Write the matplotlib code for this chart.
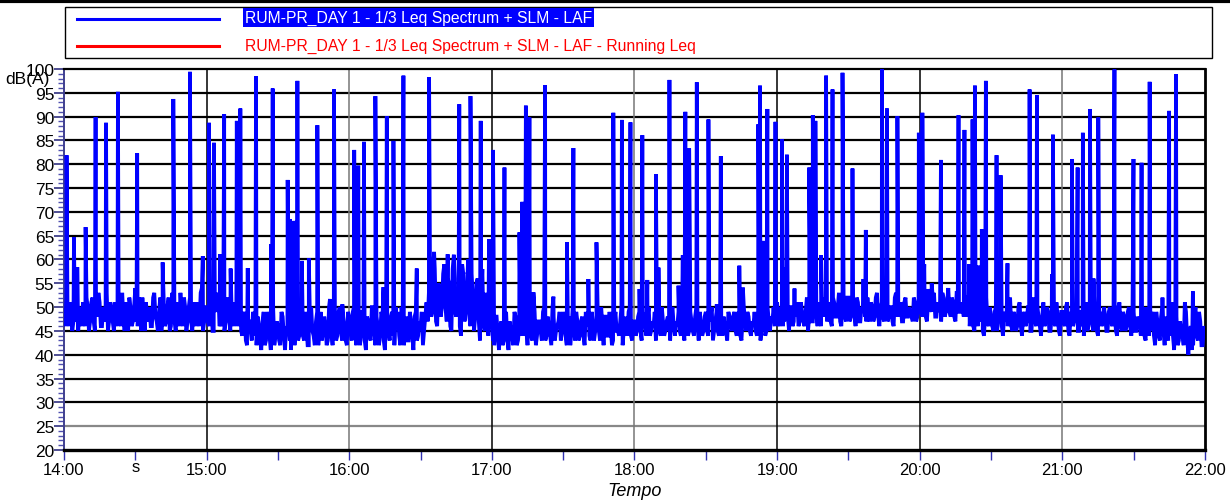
import matplotlib
matplotlib.use("Agg")
import matplotlib.pyplot as plt
from matplotlib import font_manager
from matplotlib.lines import Line2D
from matplotlib.patches import Rectangle
from matplotlib.ticker import MultipleLocator
import numpy as np

# LAF background level, one reading per minute starting 14:00 (dB(A))
laf_base = [
    48, 52, 46, 50, 47, 53, 45, 49, 51, 46, 50, 47, 52, 45, 48, 51, 46, 49, 53, 47,
    50, 45, 49, 52, 46, 48, 51, 45, 50, 47, 54, 46, 49, 52, 45, 48, 50, 46, 53, 47,
    49, 45, 51, 47, 52, 46, 50, 45, 48, 53, 46, 50, 47, 52, 45, 49, 51, 46, 54, 47,
    50, 46, 52, 45, 49, 53, 46, 50, 47, 52, 45, 49, 51, 46, 48, 44, 49, 42, 47, 43,
    48, 42, 46, 41, 49, 43, 47, 41, 50, 44, 46, 42, 48, 41, 45, 43, 49, 42, 47, 44,
    48, 43, 46, 42, 50, 44, 47, 42, 49, 45, 46, 43, 48, 42, 47, 44, 50, 43, 46, 42,
    48, 43, 50, 42, 46, 44, 49, 41, 47, 43, 50, 42, 46, 44, 48, 41, 47, 43, 49, 42,
    46, 44, 50, 42, 48, 43, 47, 41, 49, 44, 46, 42, 48, 47, 56, 49, 58, 46, 54, 50,
    59, 47, 55, 45, 61, 48, 53, 44, 57, 49, 60, 46, 52, 48, 56, 43, 58, 45, 50, 47,
    46, 42, 48, 41, 47, 43, 49, 41, 45, 42, 48, 43, 47, 44, 50, 42, 46, 43, 49, 44,
    47, 43, 50, 44, 46, 42, 48, 45, 47, 43, 49, 44, 46, 42, 50, 43, 47, 44, 48, 42,
    46, 44, 49, 43, 47, 45, 50, 42, 48, 44, 46, 43, 49, 45, 47, 42, 48, 44, 50, 43,
    47, 45, 49, 43, 48, 44, 50, 45, 46, 43, 49, 44, 47, 45, 48, 43, 50, 44, 46, 45,
    49, 43, 48, 45, 47, 44, 50, 43, 46, 45, 49, 44, 48, 43, 47, 45, 50, 44, 46, 43,
    48, 45, 49, 44, 47, 43, 50, 45, 48, 44, 46, 45, 49, 43, 48, 44, 50, 45, 47, 46,
    51, 46, 49, 47, 52, 45, 50, 47, 48, 46, 51, 47, 49, 45, 52, 47, 50, 46, 49, 48,
    52, 47, 50, 46, 51, 48, 53, 46, 49, 47, 52, 48, 50, 46, 51, 47, 49, 48, 52, 47,
    50, 48, 53, 46, 51, 47, 52, 48, 50, 46, 53, 48, 51, 47, 52, 48, 49, 47, 51, 48,
    52, 48, 54, 47, 51, 49, 53, 48, 50, 47, 52, 49, 54, 48, 51, 47, 53, 49, 50, 48,
    52, 46, 49, 45, 51, 47, 50, 44, 52, 46, 48, 45, 50, 47, 51, 44, 49, 46, 52, 45,
    48, 46, 51, 44, 49, 47, 50, 45, 52, 46, 48, 44, 51, 47, 49, 45, 50, 46, 48, 44,
    49, 46, 51, 44, 48, 47, 50, 45, 49, 44, 51, 46, 48, 45, 50, 44, 49, 47, 48, 45,
    50, 46, 49, 44, 51, 45, 48, 46, 50, 44, 49, 45, 47, 44, 50, 43, 48, 45, 49, 42,
    47, 43, 50, 42, 46, 44, 51, 41, 48, 43, 45, 42, 49, 40, 46, 42, 50, 43, 47, 42,
    45,
]

# readings taken half a minute later (14:00:30, 14:01:30, ...)
laf_half = [
    46, 49, 51, 45, 52, 47, 50, 46, 48, 52, 45, 51, 47, 49, 53, 46, 50, 47, 45, 51,
    47, 51, 46, 48, 53, 45, 49, 52, 46, 50, 47, 52, 45, 48, 51, 47, 46, 52, 48, 45,
    52, 48, 46, 50, 45, 53, 47, 51, 46, 49, 52, 45, 50, 47, 51, 46, 48, 53, 45, 50,
    47, 51, 45, 50, 52, 46, 49, 45, 51, 47, 50, 46, 48, 52, 45, 48, 43, 47, 45, 49,
    44, 48, 43, 47, 42, 49, 44, 48, 42, 47, 43, 49, 44, 46, 48, 41, 45, 48, 43, 49,
    44, 49, 42, 47, 45, 42, 49, 46, 43, 48, 42, 50, 44, 47, 43, 49, 45, 48, 43, 49,
    45, 49, 44, 47, 42, 49, 43, 48, 44, 50, 45, 48, 42, 49, 43, 47, 45, 48, 44, 50,
    49, 42, 47, 45, 43, 49, 44, 48, 43, 47, 49, 45, 51, 53, 48, 60, 47, 55, 48, 57,
    50, 56, 46, 58, 49, 54, 46, 59, 47, 53, 48, 57, 45, 55, 47, 51, 46, 53, 44, 49,
    43, 48, 44, 46, 42, 48, 43, 47, 44, 49, 42, 46, 44, 49, 45, 48, 44, 50, 42, 47,
    45, 49, 43, 48, 44, 50, 43, 46, 49, 45, 47, 42, 48, 45, 46, 49, 43, 47, 44, 49,
    49, 43, 47, 45, 50, 43, 46, 48, 44, 49, 42, 47, 45, 44, 50, 45, 46, 49, 44, 47,
    44, 48, 45, 49, 46, 48, 44, 47, 49, 46, 45, 50, 44, 47, 45, 49, 46, 47, 49, 44,
    45, 48, 44, 49, 45, 48, 46, 49, 44, 48, 45, 47, 50, 45, 49, 44, 47, 48, 45, 49,
    46, 48, 45, 49, 44, 48, 47, 49, 45, 47, 49, 44, 47, 46, 50, 45, 47, 48, 50, 49,
    47, 50, 46, 51, 48, 50, 46, 49, 51, 47, 49, 46, 52, 48, 47, 50, 48, 51, 46, 50,
    48, 51, 47, 52, 48, 50, 47, 51, 48, 52, 47, 49, 48, 52, 47, 50, 51, 47, 49, 51,
    47, 52, 48, 50, 48, 52, 47, 50, 47, 52, 48, 50, 47, 51, 48, 50, 48, 52, 47, 51,
    49, 53, 48, 51, 50, 52, 48, 51, 49, 53, 48, 51, 49, 52, 48, 53, 49, 51, 48, 52,
    48, 50, 46, 49, 46, 52, 45, 48, 47, 50, 46, 49, 45, 50, 46, 48, 47, 50, 46, 49,
    45, 50, 46, 48, 46, 50, 45, 49, 47, 50, 46, 48, 46, 50, 45, 48, 47, 51, 45, 49,
    47, 50, 45, 49, 46, 50, 45, 49, 46, 50, 45, 49, 47, 50, 45, 48, 46, 50, 45, 49,
    47, 49, 45, 50, 46, 49, 45, 49, 46, 50, 45, 48, 46, 49, 44, 50, 44, 48, 44, 49,
    44, 48, 45, 48, 43, 49, 44, 50, 42, 47, 44, 51, 43, 45, 41, 48, 44, 49, 42, 46,
]

# pass-by events: minute after 14:00 and peak LAF
event_min = [
    1.1, 4.2, 5.6, 9.1, 13.3, 17.7, 22.7, 30.8, 41.5, 46.0, 53.0, 58.4, 61.0, 63.1,
    65.6, 67.4, 70.1, 72.7, 74.2, 77.3, 80.8, 87.1, 87.8, 94.1, 95.1, 96.9, 98.2,
    100.1, 103.0, 106.6, 111.9, 113.6, 117.1, 122.1, 123.8, 126.2, 131.0, 134.4,
    135.8, 138.6, 142.8, 148.4, 153.6, 155.7, 161.4, 164.4, 166.3, 168.0, 171.0,
    175.3, 178.8, 180.5, 185.3, 191.6, 192.8, 194.3, 195.8, 197.5, 202.4, 205.9,
    211.6, 214.3, 220.6, 224.0, 231.1, 234.7, 238.3, 242.1, 243.3, 245.4, 249.0,
    250.1, 254.7, 258.5, 260.3, 261.4, 263.0, 266.2, 271.1, 274.6, 276.3, 284.1,
    285.6, 292.1, 292.8, 294.0, 295.9, 299.3, 302.0, 302.9, 304.1, 307.3, 313.5,
    315.0, 316.1, 318.5, 320.6, 323.3, 327.5, 331.7, 336.3, 337.3, 344.1, 346.2,
    350.6, 359.6, 361.1, 361.9, 363.6, 365.0, 368.9, 376.3, 378.8, 380.8, 382.2,
    383.2, 384.7, 386.1, 387.8, 392.3, 394.0, 396.9, 406.2, 409.3, 415.6, 416.0,
    424.0, 426.4, 428.6, 431.6, 433.1, 435.1, 441.9, 449.9, 453.3, 456.7, 462.1,
    464.9, 467.8, 474.9,
]
event_db = [
    81.9, 64.7, 58.4, 66.8, 89.9, 88.7, 95.2, 82.3, 59.4, 93.7, 99.4, 60.7, 88.7, 84.5,
    61.1, 90.5, 58.1, 89.1, 91.7, 58.2, 98.5, 63.2, 95.9, 76.7, 68.5, 68.1, 97.5,
    59.7, 60.3, 88.2, 51.7, 95.7, 50.6, 83.0, 79.7, 84.7, 94.3, 54.2,
    90.1, 84.9, 98.6, 58.1, 98.3, 61.6, 61.1, 56.0, 92.6, 57.3, 94.3,
    89.1, 64.3, 83.0, 79.3, 65.7, 72.1, 92.3, 89.8, 53.1, 96.6, 52.2,
    63.6, 83.4, 55.9, 63.6, 90.8, 89.3, 88.8, 53.8, 86.1, 55.7, 77.9,
    58.3, 97.7, 54.5, 60.9, 91.0, 83.3, 97.2, 89.4, 50.6, 81.7, 58.7,
    54.1, 88.4, 96.5, 63.9, 91.6, 88.9, 85.3, 58.3, 82.0, 53.9, 79.3,
    90.3, 89.1, 60.9, 98.6, 95.7, 99.2, 79.1, 55.9, 66.2, 100.0, 91.7,
    90.1, 86.6, 90.8, 59.0, 53.8, 55.0, 80.9, 90.3, 87.2, 59.0, 89.4,
    96.5, 58.7, 66.4, 97.5, 81.9, 77.7, 59.2, 95.7, 94.5, 56.9, 86.2,
    81.1, 79.3, 86.6, 91.6, 56.0, 89.8, 99.9, 81.1, 80.3, 97.3, 52.0,
    91.2, 98.9, 53.3,
]

hour_labels = ["14:00", "15:00", "16:00", "17:00", "18:00",
               "19:00", "20:00", "21:00", "22:00"]
db_levels = list(range(20, 101, 5))

series_name = "RUM-PR_DAY 1 - 1/3 Leq Spectrum + SLM - LAF"
running_name = series_name + " - Running Leq"

# narrow sans if we have it
installed = {f.name for f in font_manager.fontManager.ttflist}
narrow = "Liberation Sans Narrow" if "Liberation Sans Narrow" in installed else "Liberation Sans"
plt.rcParams["font.family"] = [narrow, "DejaVu Sans"]

fig = plt.figure(figsize=(12.3, 5.02), dpi=100)
ax = fig.add_axes([0.052, 0.1016, 0.9277, 0.759])

# merge minute and half-minute readings with event peaks, sorted by time
t = np.concatenate([np.arange(len(laf_base), dtype=float),
                    np.arange(len(laf_half)) + 0.5,
                    np.array(event_min)])
v = np.concatenate([np.array(laf_base, dtype=float),
                    np.array(laf_half, dtype=float),
                    np.array(event_db)])
order = np.argsort(t, kind="stable")
ax.plot(t[order], v[order], color="#0000ff", lw=2.7, solid_joinstyle="miter", zorder=3)

ax.set_xlim(0, 480)
ax.set_ylim(20, 100)

# grid
for lvl in db_levels[1:-1]:
    ax.axhline(lvl, color="#888888" if lvl == 25 else "black", lw=1.6, zorder=1)
for i in range(1, len(hour_labels) - 1):
    ax.axvline(i * 60, color="#777777" if i in (2, 4, 7) else "black", lw=1.1, zorder=1)

ax.set_yticks(db_levels)
ax.set_yticklabels([str(d) for d in db_levels])
ax.yaxis.set_minor_locator(MultipleLocator(1))
ax.set_xticks([i * 60 for i in range(len(hour_labels))])
ax.set_xticklabels(hour_labels)
ax.xaxis.set_minor_locator(MultipleLocator(30))

ax.tick_params(axis="y", which="major", length=7, width=1.2, color="#303080",
               pad=0, labelsize=12.5)
ax.tick_params(axis="y", which="minor", length=4, width=1.0, color="#5050b0")
ax.tick_params(axis="x", which="both", length=7, width=1.0, color="#3030b0",
               pad=2, labelsize=12)

for side in ("top", "right", "bottom"):
    ax.spines[side].set_color("black")
ax.spines["bottom"].set_linewidth(2.4)
ax.spines["right"].set_linewidth(2.0)
ax.spines["top"].set_linewidth(1.6)
ax.spines["left"].set_color("#404090")
ax.spines["left"].set_linewidth(1.4)

ax.text(30, -0.024, "s", transform=ax.get_xaxis_transform(), ha="center",
        va="top", fontsize=12)
ax.set_xlabel("Tempo", fontstyle="italic", fontsize=13, labelpad=0)
ax.xaxis.set_label_coords(0.5, -0.085)
fig.text(0.022, 0.842, "dB(A)", ha="center", va="center", fontsize=12.5)

# legend box drawn in figure space
fig.add_artist(Line2D([0, 1], [0.997, 0.997], transform=fig.transFigure,
                      color="black", lw=3))
fig.add_artist(Rectangle((0.0528, 0.8825), 0.9325, 0.1015, transform=fig.transFigure,
                         fill=False, edgecolor="black", lw=1.0))
fig.add_artist(Line2D([0.0626, 0.178], [0.960, 0.960], transform=fig.transFigure,
                      color="#0000ff", lw=2.2))
fig.add_artist(Line2D([0.0626, 0.178], [0.906, 0.906], transform=fig.transFigure,
                      color="#ff0000", lw=2.2))
fig.text(0.199, 0.963, series_name, color="white", fontsize=11.3, va="center",
         bbox=dict(boxstyle="square,pad=0.1", facecolor="#0000ff", edgecolor="none"))
fig.text(0.199, 0.908, running_name, color="#ff0000", fontsize=11.3, va="center")

fig.savefig("out.png", dpi=100)
